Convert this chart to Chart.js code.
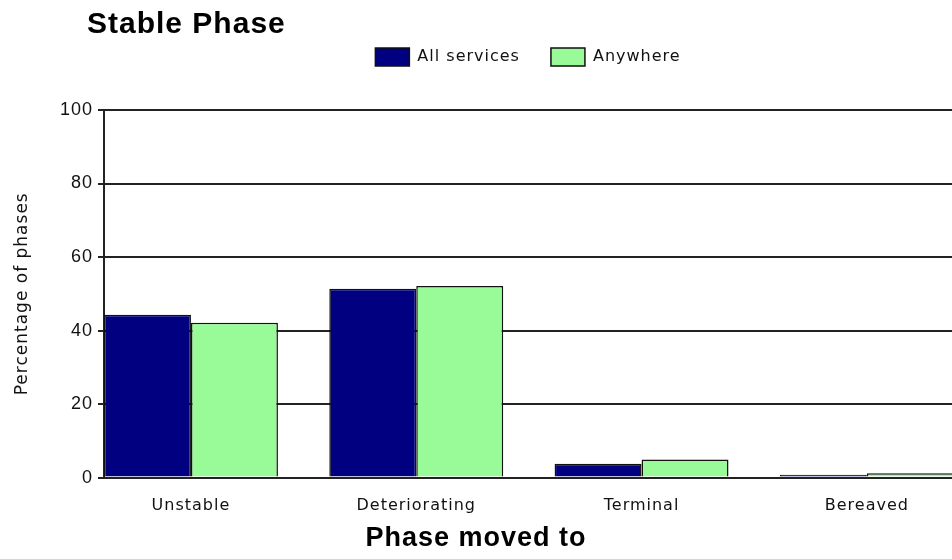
<!DOCTYPE html>
<html>
<head>
<meta charset="utf-8">
<title>Stable Phase</title>
<script src="https://cdn.jsdelivr.net/npm/chart.js@4.4.0/dist/chart.umd.min.js"></script>
<style>
  html, body { margin: 0; padding: 0; background: #fff; overflow: hidden; }
  #wrap { position: relative; width: 952px; height: 559px; }
  #heading {
    position: absolute; left: 87px; top: 8px;
    font: bold 30px "Liberation Sans", Arial, sans-serif;
    letter-spacing: 1px; line-height: 30px; color: #000; white-space: nowrap;
  }
</style>
</head>
<body>
<div id="wrap">
  <canvas id="phaseChart"></canvas>
  <div id="heading">Stable Phase</div>
</div>
<script>
// where stable phases moved to, % of phases
const categories = ["Unstable", "Deteriorating", "Terminal", "Bereaved"];
const allServices = [44.3, 51.4, 3.8, 0.8];
const anywhere = [42.1, 52.1, 4.9, 1.2];
const yTicks = [0, 20, 40, 60, 80, 100];

// numeric x axis so the first group of bars starts right on the y axis
const xMin = -0.386;
const xMax = 3.378;

const toPoints = arr => arr.map((v, i) => ({ x: i, y: v }));

const data = {
  datasets: [
    {
      label: "All services",
      data: toPoints(allServices),
      backgroundColor: "#000080",
      borderColor: "#111",
      borderWidth: 1.5,
    },
    {
      label: "Anywhere",
      data: toPoints(anywhere),
      backgroundColor: "#98fb98",
      borderColor: "#111",
      borderWidth: 1.5,
    },
  ],
};

// a bit of tracking on all canvas text (old bitmap font look)
const tracking = {
  id: "tracking",
  beforeUpdate(chart) { chart.ctx.letterSpacing = "1px"; },
  beforeDraw(chart) { chart.ctx.letterSpacing = "1px"; },
};

// extra room between legend and plot
const legendGap = {
  id: "legendGap",
  afterInit(chart) {
    const fit = chart.legend.fit;
    chart.legend.fit = function () {
      fit.call(this);
      this.height += 34;
    };
  },
};

const sans = "'DejaVu Sans', sans-serif";
const arial = "'Liberation Sans', Arial, sans-serif";

const config = {
  type: "bar",
  data: data,
  options: {
    responsive: true,
    maintainAspectRatio: false,
    animation: false,
    layout: { padding: { top: 17, left: 0, right: 0, bottom: 0 } },
    datasets: {
      bar: { categoryPercentage: 0.772, barPercentage: 1 },
    },
    plugins: {
      legend: {
        position: "top",
        fullSize: false,
        labels: {
          boxWidth: 34,
          boxHeight: 18,
          padding: 31,
          color: "#111",
          font: { family: sans, size: 16 },
        },
      },
      title: {
        display: true,
        position: "bottom",
        text: "Phase moved to",
        color: "#000",
        font: { family: arial, size: 27, weight: "bold" },
        padding: { top: 6, bottom: 4 },
      },
      tooltip: { enabled: false },
    },
    scales: {
      x: {
        type: "linear",
        min: xMin,
        max: xMax,
        offset: false,
        afterBuildTicks: s => { s.ticks = categories.map((c, i) => ({ value: i })); },
        afterFit: s => { s.height = 39; },
        ticks: {
          callback: v => categories[v],
          padding: 19,
          autoSkip: false,
          maxRotation: 0,
          color: "#111",
          font: { family: sans, size: 16 },
        },
        grid: { display: false, drawTicks: false },
        border: { display: true, color: "#222", width: 2 },
      },
      y: {
        min: 0,
        max: 100,
        afterBuildTicks: s => { s.ticks = yTicks.map(v => ({ value: v })); },
        afterFit: s => { s.width = 104; },
        ticks: {
          padding: 5,
          color: "#111",
          font: { family: arial, size: 18 },
        },
        grid: { color: "#222", lineWidth: 2, tickLength: 6 },
        border: { color: "#222", width: 2 },
        title: {
          display: true,
          text: "Percentage of phases",
          color: "#111",
          font: { family: sans, size: 17 },
          padding: { top: 12, bottom: 0 },
        },
      },
    },
  },
  plugins: [tracking, legendGap],
};

const chart = new Chart(document.getElementById("phaseChart").getContext("2d"), config);
</script>
</body>
</html>
